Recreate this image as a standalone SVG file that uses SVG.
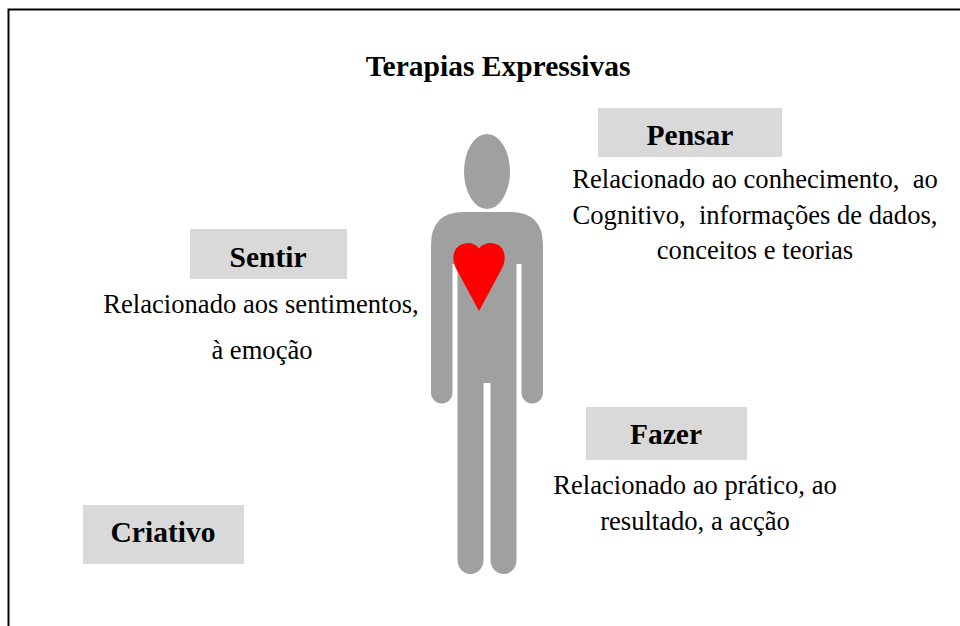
<svg xmlns="http://www.w3.org/2000/svg" width="960" height="626" viewBox="0 0 960 626">
<style>
text{font-family:"Liberation Serif","Times New Roman",serif;fill:#000;text-anchor:middle}
.b{font-weight:bold;font-size:29.500px}
.t{font-size:26.600px}
.box{fill:#d9d9d9}
.body{fill:#a0a0a0}
</style>
<rect width="960" height="626" fill="#fff"/>
<path d="M8.500 626V9.500H960" fill="none" stroke="#000" stroke-width="2"/>
<text id="title" x="498" y="76" class="b">Terapias Expressivas</text>
<g id="figure">
<ellipse class="body" cx="487" cy="171.500" rx="23" ry="37.500"/>
<path class="body" d="M431 245Q431 212 464 212H510Q543 212 543 245V392.500A10.750 11 0 0 1 521.500 392.500V264H516.500V560A13 14 0 0 1 490.500 560V383H483.500V560A13 14 0 0 1 457.500 560V264H452.500V392.500A10.750 11 0 0 1 431 392.500Z"/>
</g>
<g id="heart"><path d="M479 311L458 272Q453 264 453.300 257Q454.500 244 468 243Q475 243 479 248.500Q483 243 491 243Q504 244 504.700 257Q505 264 500 272Z" fill="#f00"/></g>
<g id="pensar"><rect class="box" x="598" y="108" width="184" height="49"/><text x="690" y="145" class="b">Pensar</text>
<text x="755" y="188" class="t" xml:space="preserve">Relacionado ao conhecimento,  ao</text>
<text x="755" y="224" class="t" xml:space="preserve">Cognitivo,  informações de dados,</text>
<text x="755" y="259" class="t">conceitos e teorias</text></g>
<g id="sentir"><rect class="box" x="190" y="229" width="157" height="50"/><text x="268" y="267" class="b">Sentir</text>
<text x="261" y="313" class="t">Relacionado aos sentimentos,</text>
<text x="262" y="359" class="t">à emoção</text></g>
<g id="fazer"><rect class="box" x="586" y="407" width="161" height="53"/><text x="666" y="444" class="b">Fazer</text>
<text x="695" y="494" class="t">Relacionado ao prático, ao</text>
<text x="695" y="530" class="t">resultado, a acção</text></g>
<g id="criativo"><rect class="box" x="83" y="505" width="161" height="59"/><text x="163" y="542" class="b">Criativo</text></g>
<g id="connectors"></g>
</svg>
